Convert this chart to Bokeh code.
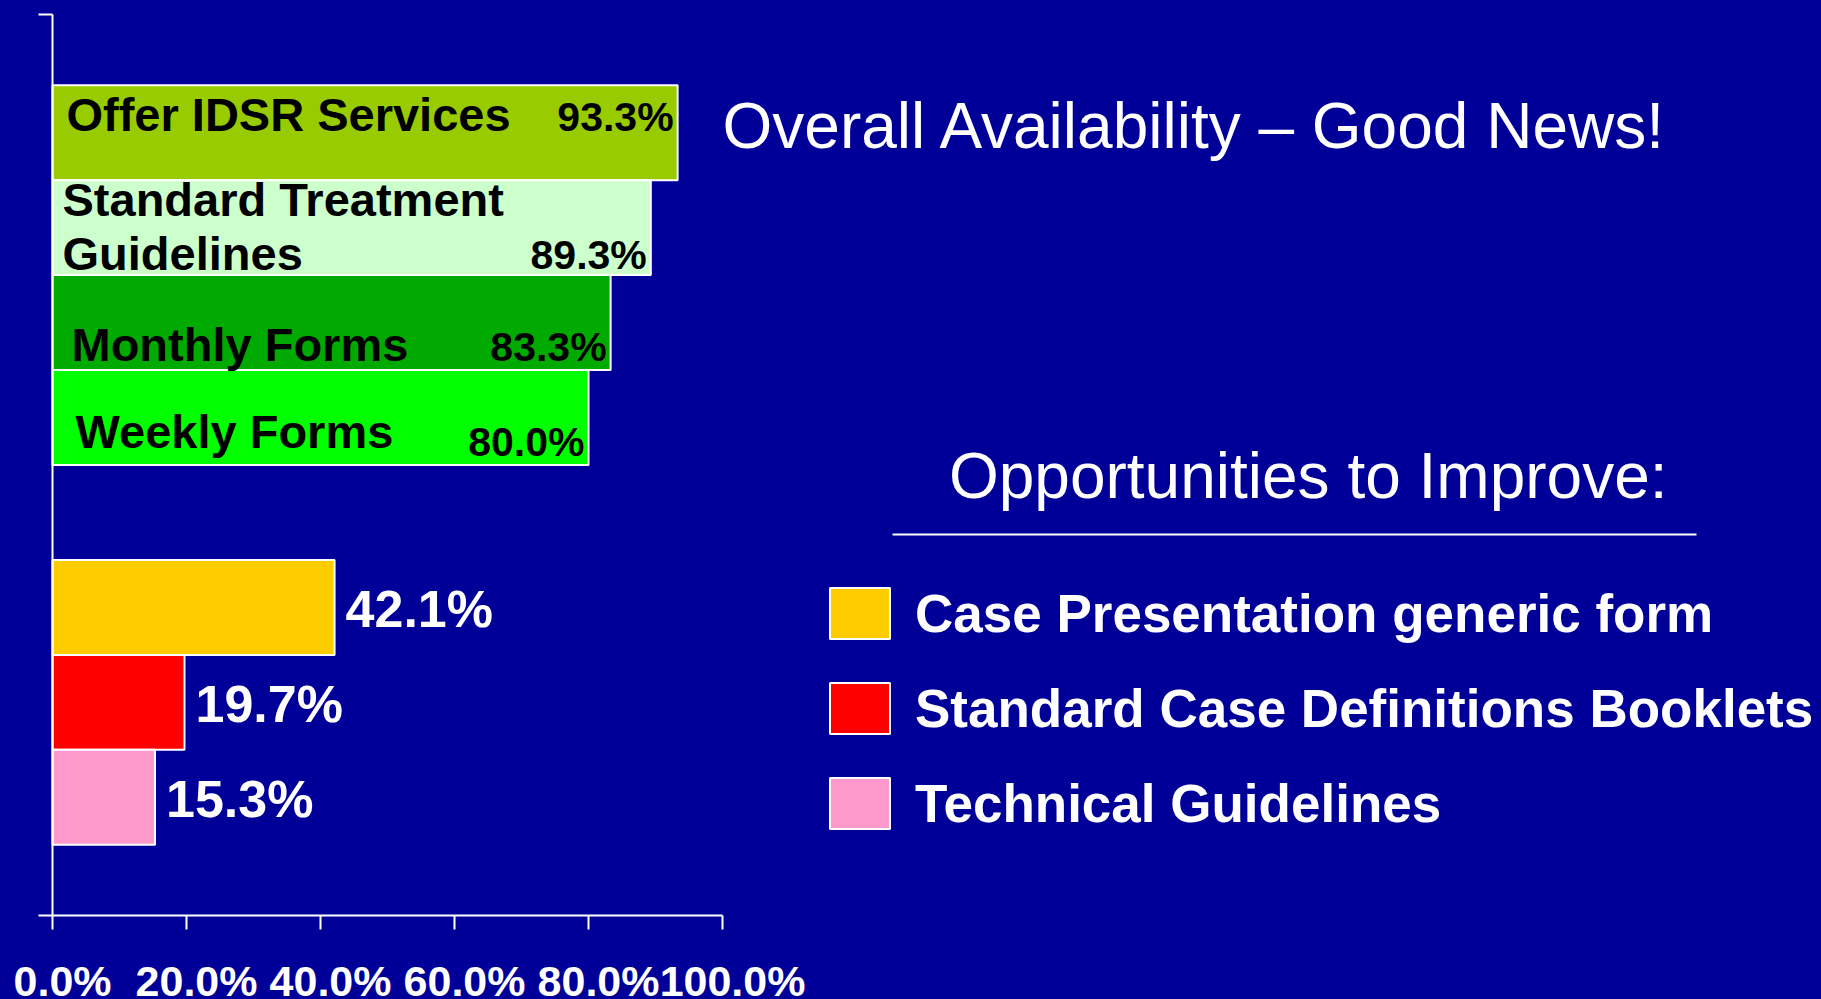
from bokeh.plotting import figure
from bokeh.models import (ColumnDataSource, Range1d, LinearAxis, FixedTicker,
                          Label, Legend, LegendItem)
from bokeh.embed import file_html
from bokeh.resources import INLINE

# ---------------- data ----------------
UPPER_NAMES = ["Offer IDSR Services", "Standard Treatment\nGuidelines",
               "Monthly Forms", "Weekly Forms"]
UPPER_VALUES = [93.3, 89.3, 83.3, 80.0]
LOWER_NAMES = ["Case Presentation generic form",
               "Standard Case Definitions Booklets",
               "Technical Guidelines"]
LOWER_VALUES = [42.1, 19.7, 15.3]
TICKS = [0, 20, 40, 60, 80, 100]
TICK_LABELS = ["0.0%", "20.0%", "40.0%", "60.0%", "80.0%", "100.0%"]
TITLE_TOP = "Overall Availability \u2013 Good News!"
TITLE_BOTTOM = "Opportunities to Improve:"

# ---------------- styles ----------------
BG = "#000099"
UPPER_COLORS = ["#99CC00", "#CCFFCC", "#00AA00", "#00FF00"]
LOWER_COLORS = ["#FFCC00", "#FF0000", "#FF99CC"]
FONT = "Liberation Sans"
NAME_DX = [14, 10, 19, 23]          # px from axis
NAME_DY = [-18, -1, 22, 14]         # px from bar centre (middle baseline)
VAL_DY = [-16, 27, 24, 24]
TICK_LABEL_SHIFT = 1.5              # tick labels sit slightly right of ticks

# ---------------- layout (pixels in figure) ----------------
W, H = 1821, 999
AX_L, AX_R, AX_T, AX_B = 52, 722, 14, 915
PAD = 0.745
n_up, n_lo, gap = len(UPPER_VALUES), len(LOWER_VALUES), 1
lo_pos = [n_lo - 1 - i for i in range(n_lo)]
up_pos = [n_lo + gap + n_up - 1 - i for i in range(n_up)]
y_lo_b = -0.5 - PAD
y_hi_b = up_pos[0] + 0.5 + PAD
xs = (AX_R - AX_L) / 100.0
ys = (AX_B - AX_T) / (y_hi_b - y_lo_b)


def px_x(px):
    return (px - AX_L) / xs


def px_y(py):
    return y_hi_b - (py - AX_T) / ys


p = figure(width=W, height=H,
           x_range=Range1d(-AX_L / xs, (W - AX_L) / xs),
           y_range=Range1d(y_lo_b - (H - AX_B) / ys, y_hi_b + AX_T / ys),
           x_axis_location=None, y_axis_location=None,
           output_backend="svg", toolbar_location=None, min_border=0,
           background_fill_color=BG, border_fill_color=BG,
           outline_line_color=None)
p.grid.visible = False

# x axis: line + ticks
xaxis = LinearAxis(fixed_location=y_lo_b, bounds=(TICKS[0], TICKS[-1]),
                   ticker=FixedTicker(ticks=TICKS),
                   major_label_overrides={t: "" for t in TICKS},
                   axis_line_color="white", axis_line_width=2,
                   major_tick_line_color="white", major_tick_line_width=2,
                   major_tick_in=0, major_tick_out=14,
                   minor_tick_line_color=None,
                   major_label_text_color=None)
p.add_layout(xaxis, "below")
# x axis: tick labels (drawn a little right of the ticks, as in the original)
lab_ticks = [t + TICK_LABEL_SHIFT for t in TICKS]
xlab = LinearAxis(fixed_location=y_lo_b,
                  bounds=(lab_ticks[0], lab_ticks[-1]),
                  ticker=FixedTicker(ticks=lab_ticks),
                  major_label_overrides={t: l for t, l in zip(lab_ticks, TICK_LABELS)},
                  axis_line_color=None, major_tick_line_color=None,
                  minor_tick_line_color=None,
                  major_tick_in=0, major_tick_out=14,
                  major_label_standoff=27,
                  major_label_text_color="white",
                  major_label_text_font=FONT,
                  major_label_text_font_style="bold",
                  major_label_text_font_size="43px")
p.add_layout(xlab, "below")

yaxis = LinearAxis(fixed_location=0, bounds=(y_lo_b, y_hi_b),
                   ticker=FixedTicker(ticks=[y_lo_b, y_hi_b]),
                   major_label_overrides={y_lo_b: "", y_hi_b: ""},
                   axis_line_color="white", axis_line_width=2,
                   major_tick_line_color="white", major_tick_line_width=2,
                   major_tick_in=0, major_tick_out=14,
                   minor_tick_line_color=None,
                   major_label_text_color=None)
p.add_layout(yaxis, "left")

# bars
up_src = ColumnDataSource(dict(pos=up_pos, val=UPPER_VALUES, name=UPPER_NAMES,
                               color=UPPER_COLORS, dx=NAME_DX, dy=NAME_DY, vdy=VAL_DY,
                               lab=["%.1f%%" % v for v in UPPER_VALUES]))
lo_src = ColumnDataSource(dict(pos=lo_pos, val=LOWER_VALUES, name=LOWER_NAMES,
                               color=LOWER_COLORS,
                               lab=["%.1f%%" % v for v in LOWER_VALUES]))
p.hbar(y="pos", left=0, right="val", height=1.0, source=up_src,
       fill_color="color", line_color="white", line_width=2)
r_lo = p.hbar(y="pos", left=0, right="val", height=1.0, source=lo_src,
              fill_color="color", line_color="white", line_width=2)

# labels in upper bars
p.text(x=0, y="pos", text="name", x_offset="dx", y_offset="dy", source=up_src,
       text_color="black", text_font={"value": FONT}, text_font_style="bold",
       text_font_size="47px", text_align="left", text_baseline="middle",
       text_line_height=1.02)
p.text(x="val", y="pos", text="lab", x_offset=-4, y_offset="vdy", source=up_src,
       text_color="black", text_font={"value": FONT}, text_font_style="bold",
       text_font_size="41px", text_align="right", text_baseline="middle")
# values beside lower bars
p.text(x="val", y="pos", text="lab", x_offset=11, y_offset=2, source=lo_src,
       text_color="white", text_font={"value": FONT}, text_font_style="bold",
       text_font_size="52px", text_align="left", text_baseline="middle")

# titles
p.add_layout(Label(x=px_x(722), y=px_y(125), text=TITLE_TOP, text_color="white",
                   text_font=FONT, text_font_size="64px",
                   text_align="left", text_baseline="alphabetic"))
p.add_layout(Label(x=px_x(1667), y=px_y(475), text=TITLE_BOTTOM, text_color="white",
                   text_font=FONT, text_font_size="64px",
                   text_align="right", text_baseline="alphabetic"))
p.segment(x0=px_x(892), y0=px_y(534), x1=px_x(1696), y1=px_y(534),
          line_color="white", line_width=2)

# legend
items = [LegendItem(label=n, renderers=[r_lo], index=i) for i, n in enumerate(LOWER_NAMES)]
legend = Legend(items=items, location=(822, 164), orientation="vertical",
                glyph_width=75, glyph_height=64, label_standoff=18, spacing=31,
                padding=0, margin=0, border_line_color=None,
                background_fill_alpha=0, label_text_color="white",
                label_text_font=FONT, label_text_font_style="bold",
                label_text_font_size="53px")
p.add_layout(legend, "center")

html = file_html(p, INLINE)
html = html.replace("<body>", '<body style="background-color:#000099;overflow:hidden;">')
open("out.html", "w").write(html)
